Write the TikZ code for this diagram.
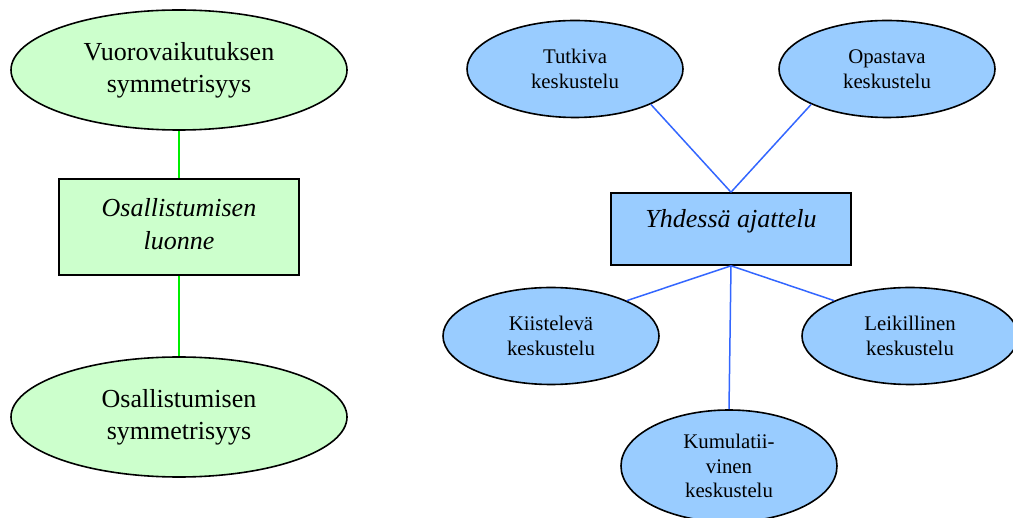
\documentclass[tikz,border=0pt]{standalone}
\usepackage{fontspec}
\setmainfont{Liberation Serif}
\usetikzlibrary{shapes.geometric}
\definecolor{gfill}{HTML}{CCFFCC}
\definecolor{bfill}{HTML}{99CCFF}
\definecolor{gline}{HTML}{00EE00}
\definecolor{bline}{HTML}{3366FF}
\tikzset{
  bigell/.style={ellipse,draw=black,line width=1.6pt,fill=gfill,minimum width=336pt,minimum height=120pt,inner sep=0pt,align=center,font=\fontsize{26}{32}\selectfont},
  smallell/.style={ellipse,draw=black,line width=1.6pt,fill=bfill,minimum width=216pt,minimum height=97pt,inner sep=0pt,align=center,font=\fontsize{20.8}{24.5}\selectfont},
  boxshape/.style={rectangle,draw=black,line width=1.6pt,inner sep=0pt},
  boxtext/.style={align=center,inner sep=0pt,font=\fontsize{26}{33}\selectfont\itshape},
  gconn/.style={draw=gline,line width=1.5pt},
  bconn/.style={draw=bline,line width=1.5pt}
}
\begin{document}
\begin{tikzpicture}[x=1pt,y=-1pt]
\useasboundingbox (0,0) rectangle (1013,518);
% left part
\node[bigell] (vs) at (179,70) {Vuorovaikutuksen\\symmetrisyys};
\node[boxshape,fill=gfill,minimum width=240pt,minimum height=96pt] (ol) at (179,227) {};
\node[boxtext] (olt) at (179,224) {Osallistumisen\\luonne};
\node[bigell] (os) at (179,417) {Osallistumisen\\symmetrisyys};
\draw[gconn] (vs.south) -- (ol.north);
\draw[gconn] (ol.south) -- (os.north);
% right part
\node[smallell] (tk) at (575,69) {Tutkiva\\keskustelu};
\node[smallell] (ok) at (887,69) {Opastava\\keskustelu};
\node[boxshape,fill=bfill,minimum width=240pt,minimum height=72pt] (ya) at (731,229) {};
\node[boxtext] (yat) at (731,221) {Yhdessä ajattelu};
\node[smallell] (kk) at (551,336) {Kiistelevä\\keskustelu};
\node[smallell] (lk) at (910,336) {Leikillinen\\keskustelu};
\node[smallell,minimum height=112pt] (kv) at (729,466) {Kumulatii-\\vinen\\keskustelu};
\draw[bconn] (tk.-25) -- (ya.north);
\draw[bconn] (ok.-155) -- (ya.north);
\draw[bconn] (ya.south) -- (kk.25);
\draw[bconn] (ya.south) -- (lk.155);
\draw[bconn] (ya.south) -- (kv.north);
\end{tikzpicture}
\end{document}
